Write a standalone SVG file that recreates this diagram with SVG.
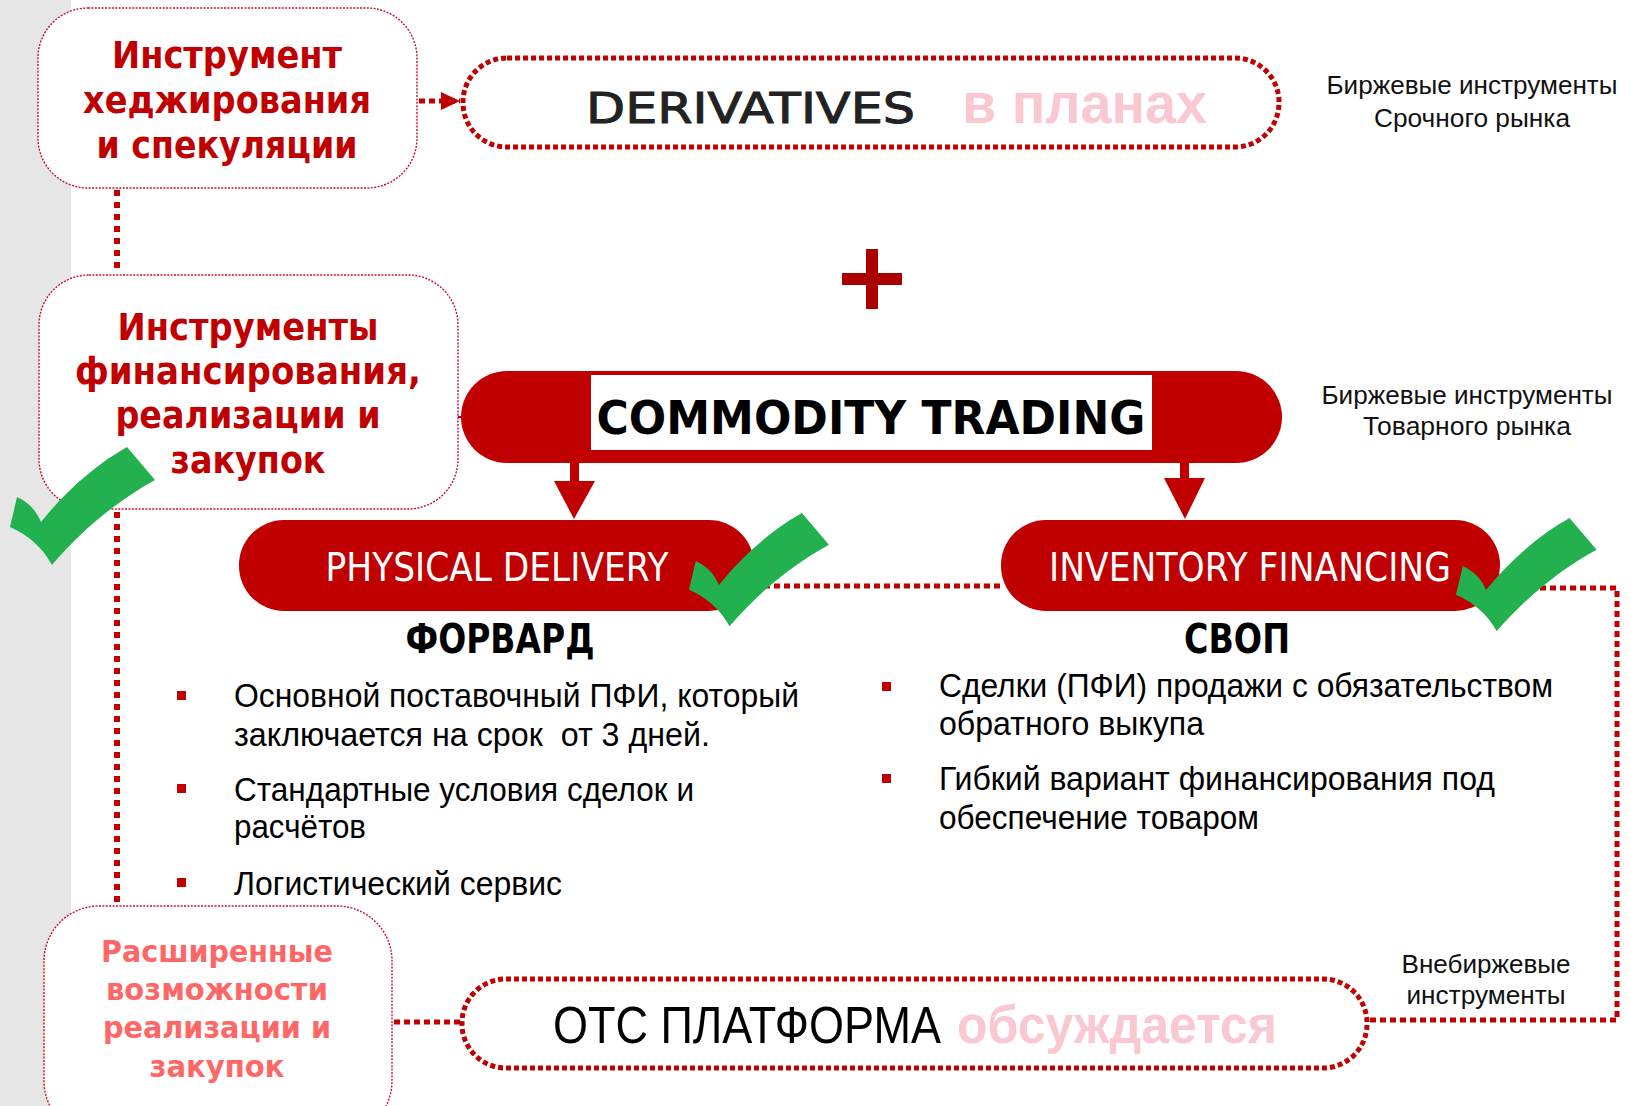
<svg xmlns="http://www.w3.org/2000/svg" width="1631" height="1106" viewBox="0 0 1631 1106">
<style>
.box{fill:#fff;stroke:#C8102E;stroke-width:1.4;stroke-dasharray:2 1.4}
.dotbox{fill:#fff;stroke:#C00000;stroke-width:5;stroke-dasharray:5 3}
.dot{fill:none;stroke:#C00000;stroke-width:6;stroke-dasharray:6 6}
.dot2{fill:none;stroke:#C00000;stroke-width:5;stroke-dasharray:6 4}
.pill{fill:#C00000}
.red{fill:#C00000}
.hb{font-family:"DejaVu Sans",sans-serif;font-weight:bold;fill:#C00000;text-anchor:middle}
.hb3{font-family:"DejaVu Sans",sans-serif;font-weight:bold;fill:#FF6666;text-anchor:middle;font-size:30px}
.bul{font-family:"Liberation Sans",Arial,sans-serif;font-size:33px;fill:#000}
.lab{font-family:"Liberation Sans",Arial,sans-serif;font-size:25px;fill:#111;text-anchor:middle}
.wt{font-family:"DejaVu Sans",sans-serif;font-size:39px;fill:#fff;text-anchor:middle}
.hd{font-family:"DejaVu Sans",sans-serif;font-weight:bold;font-size:40px;fill:#000;text-anchor:middle}
.pink{font-family:"Liberation Sans",sans-serif;font-weight:bold;fill:#F9C8D1}
.chk{fill:#23B04F}
</style>
<defs>
<path id="check" d="M7,50 C18,55 26,63 31,75 C55,45 85,18 117,0 L145,33 C105,55 70,85 42,118 C32,100 18,88 0,80 Z"/>
<marker id="ah" markerUnits="userSpaceOnUse" markerWidth="20" markerHeight="18" refX="19" refY="9" orient="auto">
<path d="M0,0 L19,9 L0,18 Z" fill="#C00000"/>
</marker>
</defs>
<rect x="0" y="0" width="71" height="1106" fill="#E6E6E6"/>

<g id="connectors">
<path class="dot" d="M117,190 V274"/>
<path class="dot" d="M117,512 V905"/>
<path class="dot2" d="M419,101 H460" marker-end="url(#ah)"/>
<path class="dot2" d="M754,586 H1001"/>
<path class="dot2" d="M1500,588 H1617 V1020 H1366"/>
<path class="dot2" d="M394,1022 H461"/>
<path d="M458,417 H463" stroke="#C00000" stroke-width="2"/>
<rect class="red" x="570" y="460" width="9" height="24"/>
<path class="red" d="M554,481 L595,481 L574,519 Z"/>
<rect class="red" x="1180" y="460" width="9" height="21"/>
<path class="red" d="M1164,478 L1205,478 L1185,519 Z"/>
</g>

<g id="box-hedging">
<rect class="box" x="38" y="8" width="379" height="180" rx="50"/>
<text class="hb" font-size="38" x="227" y="68" textLength="230" lengthAdjust="spacingAndGlyphs">Инструмент</text>
<text class="hb" font-size="38" x="227" y="113" textLength="288" lengthAdjust="spacingAndGlyphs">хеджирования</text>
<text class="hb" font-size="38" x="227" y="158" textLength="261" lengthAdjust="spacingAndGlyphs">и спекуляции</text>
</g>

<g id="derivatives">
<rect class="dotbox" x="463" y="58" width="816" height="89" rx="44"/>
<text x="586" y="123" font-family="DejaVu Sans,sans-serif" font-size="43" fill="#222" stroke="#222" stroke-width="1" textLength="329" lengthAdjust="spacingAndGlyphs">DERIVATIVES</text>
<text class="pink" x="962" y="123" font-size="58" textLength="245" lengthAdjust="spacingAndGlyphs">в планах</text>
</g>

<g id="label-srochny">
<text class="lab" x="1472" y="94" textLength="291" lengthAdjust="spacingAndGlyphs">Биржевые инструменты</text>
<text class="lab" x="1472" y="127" textLength="196" lengthAdjust="spacingAndGlyphs">Срочного рынка</text>
</g>

<g id="plus">
<rect x="842" y="273" width="60" height="12" fill="#AA0000"/>
<rect x="866" y="249" width="12" height="60" fill="#AA0000"/>
</g>

<g id="box-financing">
<rect class="box" x="39" y="275" width="419" height="234" rx="50"/>
<text class="hb" font-size="37" x="248" y="340" textLength="261" lengthAdjust="spacingAndGlyphs">Инструменты</text>
<text class="hb" font-size="37" x="248" y="384" textLength="346" lengthAdjust="spacingAndGlyphs">финансирования,</text>
<text class="hb" font-size="37" x="248" y="428" textLength="265" lengthAdjust="spacingAndGlyphs">реализации и</text>
<text class="hb" font-size="37" x="248" y="473" textLength="155" lengthAdjust="spacingAndGlyphs">закупок</text>
</g>

<g id="commodity">
<rect class="pill" x="461" y="371" width="821" height="92" rx="46"/>
<rect x="591" y="375" width="561" height="75" fill="#fff"/>
<text x="871" y="434" font-family="DejaVu Sans,sans-serif" font-weight="bold" font-size="46" fill="#000" text-anchor="middle" textLength="549" lengthAdjust="spacingAndGlyphs">COMMODITY TRADING</text>
</g>

<g id="label-tovarny">
<text class="lab" x="1467" y="404" textLength="291" lengthAdjust="spacingAndGlyphs">Биржевые инструменты</text>
<text class="lab" x="1467" y="435" textLength="208" lengthAdjust="spacingAndGlyphs">Товарного рынка</text>
</g>

<g id="physical">
<rect class="pill" x="239" y="520" width="515" height="91" rx="45"/>
<text class="wt" x="497" y="581" textLength="343" lengthAdjust="spacingAndGlyphs">PHYSICAL DELIVERY</text>
</g>

<g id="inventory">
<rect class="pill" x="1001" y="520" width="499" height="91" rx="45"/>
<text class="wt" x="1250" y="581" textLength="402" lengthAdjust="spacingAndGlyphs">INVENTORY FINANCING</text>
</g>

<g id="forward">
<text class="hd" x="500" y="653" textLength="189" lengthAdjust="spacingAndGlyphs">ФОРВАРД</text>
<rect class="red" x="177" y="691" width="9" height="9"/>
<text class="bul" x="234" y="707" textLength="565" lengthAdjust="spacingAndGlyphs">Основной поставочный ПФИ, который</text>
<text class="bul" x="234" y="746" textLength="476" lengthAdjust="spacingAndGlyphs">заключается на срок&#160; от 3 дней.</text>
<rect class="red" x="177" y="784" width="9" height="9"/>
<text class="bul" x="234" y="801" textLength="460" lengthAdjust="spacingAndGlyphs">Стандартные условия сделок и</text>
<text class="bul" x="234" y="838" textLength="132" lengthAdjust="spacingAndGlyphs">расчётов</text>
<rect class="red" x="177" y="878" width="9" height="9"/>
<text class="bul" x="234" y="895" textLength="328" lengthAdjust="spacingAndGlyphs">Логистический сервис</text>
</g>

<g id="swap">
<text class="hd" x="1237" y="653" textLength="106" lengthAdjust="spacingAndGlyphs">СВОП</text>
<rect class="red" x="882" y="682" width="9" height="9"/>
<text class="bul" x="939" y="697" textLength="614" lengthAdjust="spacingAndGlyphs">Сделки (ПФИ) продажи с обязательством</text>
<text class="bul" x="939" y="735" textLength="265" lengthAdjust="spacingAndGlyphs">обратного выкупа</text>
<rect class="red" x="882" y="774" width="9" height="9"/>
<text class="bul" x="939" y="790" textLength="556" lengthAdjust="spacingAndGlyphs">Гибкий вариант финансирования под</text>
<text class="bul" x="939" y="829" textLength="320" lengthAdjust="spacingAndGlyphs">обеспечение товаром</text>
</g>

<g id="box-extended">
<rect class="box" x="44" y="906" width="348" height="230" rx="55"/>
<text class="hb3" x="217" y="962" textLength="232" lengthAdjust="spacingAndGlyphs">Расширенные</text>
<text class="hb3" x="217" y="1000" textLength="222" lengthAdjust="spacingAndGlyphs">возможности</text>
<text class="hb3" x="217" y="1038" textLength="228" lengthAdjust="spacingAndGlyphs">реализации и</text>
<text class="hb3" x="217" y="1077" textLength="135" lengthAdjust="spacingAndGlyphs">закупок</text>
</g>

<g id="otc">
<rect class="dotbox" x="462" y="979" width="905" height="89" rx="44"/>
<text transform="translate(553,1043) scale(1,1.18)" x="0" y="0" font-family="Liberation Sans,sans-serif" font-size="44" fill="#000" textLength="388" lengthAdjust="spacingAndGlyphs">ОТС ПЛАТФОРМА</text>
<text class="pink" x="957" y="1043" font-size="54" textLength="320" lengthAdjust="spacingAndGlyphs">обсуждается</text>
</g>

<g id="label-otc">
<text class="lab" x="1486" y="973" textLength="169" lengthAdjust="spacingAndGlyphs">Внебиржевые</text>
<text class="lab" x="1486" y="1004" textLength="159" lengthAdjust="spacingAndGlyphs">инструменты</text>
</g>

<g id="checks">
<use href="#check" class="chk" transform="translate(10,447)"/>
<use href="#check" class="chk" transform="translate(689,513) scale(0.965,0.96)"/>
<use href="#check" class="chk" transform="translate(1456,518) scale(0.97,0.96)"/>
</g>
</svg>
